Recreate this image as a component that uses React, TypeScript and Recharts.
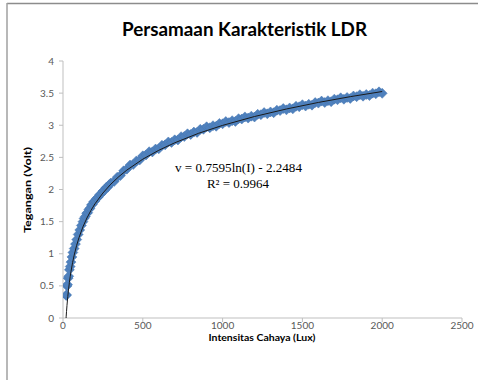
import React from "react";
import { ComposedChart, Scatter, XAxis, YAxis } from "recharts";

// Measured points (Lux, Volt)
const lux = [20, 22, 25, 28, 32, 36, 40, 45, 50, 56, 62, 70, 78, 86, 95, 105, 115, 125, 132, 140, 148, 155, 162, 170, 178, 185, 192, 200, 210, 220, 230, 240, 250, 260, 270, 280, 290,
  300, 320, 340, 360, 380, 400, 420, 440, 460, 480, 500, 520, 540, 560, 580, 600, 620, 640, 660, 680, 700, 720, 740, 760, 780, 800, 820, 840, 860, 880, 900, 920, 940, 960, 980,
  1000, 1020, 1040, 1060, 1080, 1100, 1120, 1140, 1160, 1180, 1200, 1220, 1240, 1260, 1280, 1300, 1320, 1340, 1360, 1380, 1400, 1420, 1440, 1460, 1480,
  1500, 1520, 1540, 1560, 1580, 1600, 1620, 1640, 1660, 1680, 1700, 1720, 1740, 1760, 1780, 1800, 1820, 1840, 1860, 1880, 1900, 1920, 1940, 1960, 1980, 2000];
const volts = [0.35, 0.36, 0.5, 0.52, 0.62, 0.65, 0.75, 0.8, 0.87, 0.95, 1.02, 1.08, 1.15, 1.22, 1.3, 1.37, 1.44, 1.5, 1.55, 1.58, 1.63, 1.64, 1.69, 1.71, 1.76, 1.77, 1.81, 1.82, 1.86, 1.88, 1.92, 1.935, 1.975, 1.985, 2.03, 2.036, 2.075,
  2.101, 2.124, 2.192, 2.216, 2.291, 2.317, 2.38, 2.39, 2.445, 2.458, 2.524, 2.537, 2.588, 2.585, 2.63, 2.633, 2.688, 2.695, 2.74, 2.733, 2.773, 2.771, 2.822, 2.825, 2.867, 2.856, 2.893, 2.888, 2.936, 2.937, 2.976, 2.961, 2.993, 2.984, 3.028,
  3.023, 3.058, 3.041, 3.071, 3.06, 3.102, 3.097, 3.13, 3.112, 3.141, 3.128, 3.17, 3.164, 3.197, 3.178, 3.207, 3.195, 3.235, 3.228, 3.26, 3.24, 3.269, 3.255, 3.296, 3.288,
  3.32, 3.299, 3.327, 3.313, 3.353, 3.345, 3.376, 3.354, 3.382, 3.367, 3.406, 3.397, 3.427, 3.405, 3.432, 3.417, 3.455, 3.445, 3.475, 3.452, 3.478, 3.462, 3.5, 3.49, 3.52, 3.497];

// Trendline readings
const trendLux = [19.3, 20, 22, 25, 30, 35, 40, 45, 50, 60, 70, 85, 100, 125, 150, 175, 200, 250, 300, 350, 400, 500, 600, 700, 850, 1000, 1200, 1400, 1600, 1800, 2000];
const trendVolt = [0, 0.027, 0.099, 0.196, 0.335, 0.452, 0.553, 0.643, 0.723, 0.861, 0.978, 1.126, 1.249, 1.419, 1.557, 1.674, 1.776, 1.945, 2.084, 2.201, 2.302, 2.472, 2.61, 2.727, 2.875, 2.998, 3.136, 3.253, 3.355, 3.445, 3.525];

const xTicks = [0, 500, 1000, 1500, 2000, 2500];
const yTicks = [0, 0.5, 1, 1.5, 2, 2.5, 3, 3.5, 4];

const title = "Persamaan Karakteristik LDR";
const xTitle = "Intensitas Cahaya (Lux)";
const yTitle = "Tegangan (Volt)";
const eqLine = "v = 0.7595ln(I)  - 2.2484";
const r2Line = "R\u00B2 = 0.9964";

const points = lux.map((x, i) => ({ x, y: volts[i] }));
const trend = trendLux.map((x, i) => ({ x, y: trendVolt[i] }));

const Diamond = (props: any) => {
  const { cx, cy } = props;
  if (cx == null || cy == null) return null;
  const r = 5;
  return (
    <polygon
      points={`${cx},${cy - r} ${cx + r},${cy} ${cx},${cy + r} ${cx - r},${cy}`}
      fill="#4F81BD"
      stroke="#4677B3"
      strokeWidth={0.5}
    />
  );
};

const NoDot = () => <g />;

const tickStyle = { fill: "#595959", fontSize: 10, fontFamily: "Lato, sans-serif" };

export default function App() {
  return (
    <div style={{ position: "absolute", left: 0, top: 0, width: 478, height: 380, background: "#fff", overflow: "hidden" }}>
      <ComposedChart width={478} height={380} margin={{ top: 61, right: 16, bottom: 32, left: 0 }}>
        <XAxis
          type="number"
          dataKey="x"
          domain={[0, 2500]}
          ticks={xTicks}
          height={30}
          stroke="#bfbfbf"
          tickLine={{ stroke: "#bfbfbf" }}
          tickSize={4}
          tickMargin={0}
          tick={tickStyle}
          allowDataOverflow
        />
        <YAxis
          type="number"
          dataKey="y"
          domain={[0, 4]}
          ticks={yTicks}
          width={63}
          stroke="#bfbfbf"
          tickLine={{ stroke: "#bfbfbf" }}
          tickSize={4}
          tickMargin={5}
          tick={tickStyle}
          allowDataOverflow
        />
        <Scatter data={points} dataKey="y" shape={Diamond} isAnimationActive={false} />
        <Scatter
          data={trend}
          dataKey="y"
          shape={NoDot}
          line={{ stroke: "#1a1a1a", strokeWidth: 1 }}
          lineType="joint"
          isAnimationActive={false}
        />
      </ComposedChart>
      <svg width={478} height={380} style={{ position: "absolute", left: 0, top: 0, pointerEvents: "none" }}>
        <line x1={7} y1={3.5} x2={478} y2={3.5} stroke="#8c8c8c" strokeWidth={1.5} />
        <line x1={7} y1={3} x2={7} y2={380} stroke="#a0a0a0" strokeWidth={1.5} />
        <text x={244.5} y={36} textAnchor="middle" fontFamily="Lato, sans-serif" fontWeight="bold" fontSize={19.5} fill="#000" textLength={245} lengthAdjust="spacingAndGlyphs">
          {title}
        </text>
        <text x={262} y={341} textAnchor="middle" fontFamily="Lato, sans-serif" fontWeight="bold" fontSize={10} fill="#000" textLength={107} lengthAdjust="spacingAndGlyphs">
          {xTitle}
        </text>
        <text x={0} y={0} transform="translate(31,190) rotate(-90)" textAnchor="middle" fontFamily="Lato, sans-serif" fontWeight="bold" fontSize={10} fill="#000" textLength={86} lengthAdjust="spacingAndGlyphs">
          {yTitle}
        </text>
        <text x={238.5} y={172} textAnchor="middle" fontFamily="'Liberation Serif', serif" fontSize={13} fill="#000" textLength={127} lengthAdjust="spacingAndGlyphs">
          {eqLine}
        </text>
        <text x={238} y={188} textAnchor="middle" fontFamily="'Liberation Serif', serif" fontSize={13} fill="#000">
          {r2Line}
        </text>
      </svg>
    </div>
  );
}
